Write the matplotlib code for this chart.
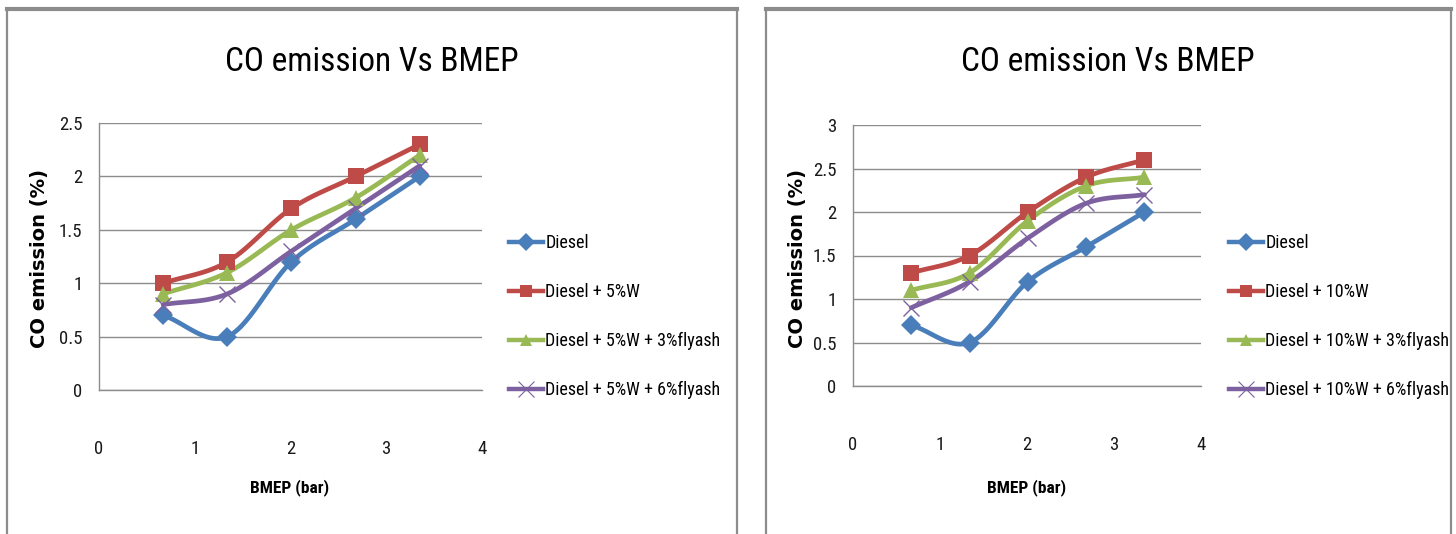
import numpy as np
import matplotlib
matplotlib.use("Agg")
import matplotlib.pyplot as plt
from matplotlib import font_manager
from matplotlib.patches import Rectangle
from matplotlib.lines import Line2D

# ---------------- data ----------------
bmep = [0.67, 1.34, 2.01, 2.68, 3.35]

left_labels = ["Diesel", "Diesel + 5%W", "Diesel + 5%W + 3%flyash", "Diesel + 5%W + 6%flyash"]
left_diesel = [0.7, 0.5, 1.2, 1.6, 2.0]
left_w5 = [1.0, 1.2, 1.7, 2.0, 2.3]
left_w5_fa3 = [0.9, 1.1, 1.5, 1.8, 2.2]
left_w5_fa6 = [0.8, 0.9, 1.3, 1.7, 2.1]

right_labels = ["Diesel", "Diesel + 10%W", "Diesel + 10%W + 3%flyash", "Diesel + 10%W + 6%flyash"]
right_diesel = [0.7, 0.5, 1.2, 1.6, 2.0]
right_w10 = [1.3, 1.5, 2.0, 2.4, 2.6]
right_w10_fa3 = [1.1, 1.3, 1.9, 2.3, 2.4]
right_w10_fa6 = [0.9, 1.2, 1.7, 2.1, 2.2]

title_text = "CO emission Vs BMEP"
xlabel_text = "BMEP (bar)"
ylabel_text = "CO emission (%)"

colors = ["#4A7EBB", "#BE4B48", "#98B954", "#7D60A0"]
markers = ["D", "s", "^", "x"]

# ---------------- fonts ----------------
avail = {f.name for f in font_manager.fontManager.ttflist}
narrow = None
for cand in ["Liberation Sans Narrow", "Roboto Condensed", "DejaVu Sans Condensed", "Open Sans Condensed"]:
    if cand in avail:
        narrow = cand
        break
if narrow is None:
    narrow = "Liberation Sans"
plt.rcParams["font.family"] = [narrow, "DejaVu Sans"]


def smooth(x, y, n=30):
    """Catmull-Rom style smoothing similar to spreadsheet 'smoothed line'."""
    x = np.asarray(x, float)
    y = np.asarray(y, float)
    px = np.concatenate([[2 * x[0] - x[1]], x, [2 * x[-1] - x[-2]]])
    py = np.concatenate([[2 * y[0] - y[1]], y, [2 * y[-1] - y[-2]]])
    xs, ys = [], []
    for i in range(1, len(px) - 2):
        t = np.linspace(0, 1, n, endpoint=(i == len(px) - 3))
        p0, p1, p2, p3 = (np.array([px[j], py[j]]) for j in range(i - 1, i + 3))
        k = 1 / 6.0
        c1 = p1 + (p2 - p0) * k
        c2 = p2 - (p3 - p1) * k
        tt = t[:, None]
        pts = ((1 - tt) ** 3) * p1 + 3 * ((1 - tt) ** 2) * tt * c1 + 3 * (1 - tt) * tt ** 2 * c2 + tt ** 3 * p2
        xs.extend(pts[:, 0])
        ys.extend(pts[:, 1])
    return np.array(xs), np.array(ys)


W, H = 1456, 534
fig = plt.figure(figsize=(W / 100, H / 100), dpi=100)


def px_rect(x0, y0, x1, y1):
    return [x0 / W, 1 - y1 / H, (x1 - x0) / W, (y1 - y0) / H]


# panel borders
for (x0, x1) in [(7, 737), (766, 1451)]:
    fig.patches.append(Rectangle((x0 / W, -0.05), (x1 - x0) / W, (1.05 - 9 / H),
                                 transform=fig.transFigure, fill=False,
                                 edgecolor="#8C8C8C", linewidth=1.6))
    fig.add_artist(Line2D([x0 / W, x1 / W], [1 - 9 / H, 1 - 9 / H], transform=fig.transFigure,
                          color="#8C8C8C", linewidth=3))


def draw_panel(rect, series, labels, ymax, ystep, title_x, xlabel_x, ylabel_x, legend_xy, xtick_pad):
    ax = fig.add_axes(px_rect(*rect))
    handles = []
    for vals, c, m, lab in zip(series, colors, markers, labels):
        sx, sy = smooth(bmep, vals)
        ax.plot(sx, sy, color=c, linewidth=3.4, solid_capstyle="round", zorder=3)
        if m == "x":
            ax.plot(bmep, vals, linestyle="none", marker=m, color=c, markersize=11,
                    markeredgewidth=1.0, zorder=4)
        else:
            ms = {"D": 10, "s": 11, "^": 11}[m]
            ax.plot(bmep, vals, linestyle="none", marker=m, color=c, markersize=ms,
                    markeredgewidth=0, zorder=4)
        handles.append(Line2D([], [], color=c, linewidth=3.2, marker=m, markersize=(9 if m != "x" else 11),
                              markeredgewidth=(0.8 if m == "x" else 0), label=lab))
    ax.set_xlim(0, 4)
    ax.set_ylim(0, ymax)
    ax.set_xticks([0, 1, 2, 3, 4])
    ax.set_yticks(np.arange(0, ymax + 1e-9, ystep))
    ax.set_yticklabels([("%g" % v) for v in np.arange(0, ymax + 1e-9, ystep)])
    ax.grid(axis="y", color="#8C8C8C", linewidth=1.0)
    ax.set_axisbelow(True)
    for s in ["top", "right"]:
        ax.spines[s].set_visible(False)
    for s in ["left", "bottom"]:
        ax.spines[s].set_color("#8C8C8C")
        ax.spines[s].set_linewidth(1.0)
    ax.tick_params(length=0, labelsize=13.5, colors="#1A1A1A")
    ax.tick_params(axis="x", pad=xtick_pad)
    ax.tick_params(axis="y", pad=12)

    fig.text(title_x / W, 1 - 62 / H, title_text, fontsize=24, ha="center", va="center", color="#000000")
    fig.text(xlabel_x / W, 1 - 488 / H, xlabel_text, fontsize=12.5, fontweight="bold", ha="center", va="center")
    fig.text(ylabel_x / W, 1 - 258 / H, ylabel_text, fontsize=14, fontweight="bold",
             rotation=90, ha="center", va="center", family=["DejaVu Sans"])
    ax.legend(handles=handles, loc="upper left", bbox_to_anchor=(legend_xy[0] / W, 1 - legend_xy[1] / H),
              bbox_transform=fig.transFigure,
              frameon=False, fontsize=13, labelspacing=1.72, handlelength=1.9,
              handletextpad=0.12, borderaxespad=0, borderpad=0)
    return ax


draw_panel((99, 123, 482, 390), [left_diesel, left_w5, left_w5_fa3, left_w5_fa6], left_labels,
           2.5, 0.5, 372, 290, 40, (509, 234), 36)
draw_panel((853, 125, 1201, 386), [right_diesel, right_w10, right_w10_fa3, right_w10_fa6], right_labels,
           3.0, 0.5, 1108, 1027, 797, (1229, 234), 36)

fig.savefig("out.png", dpi=100)
